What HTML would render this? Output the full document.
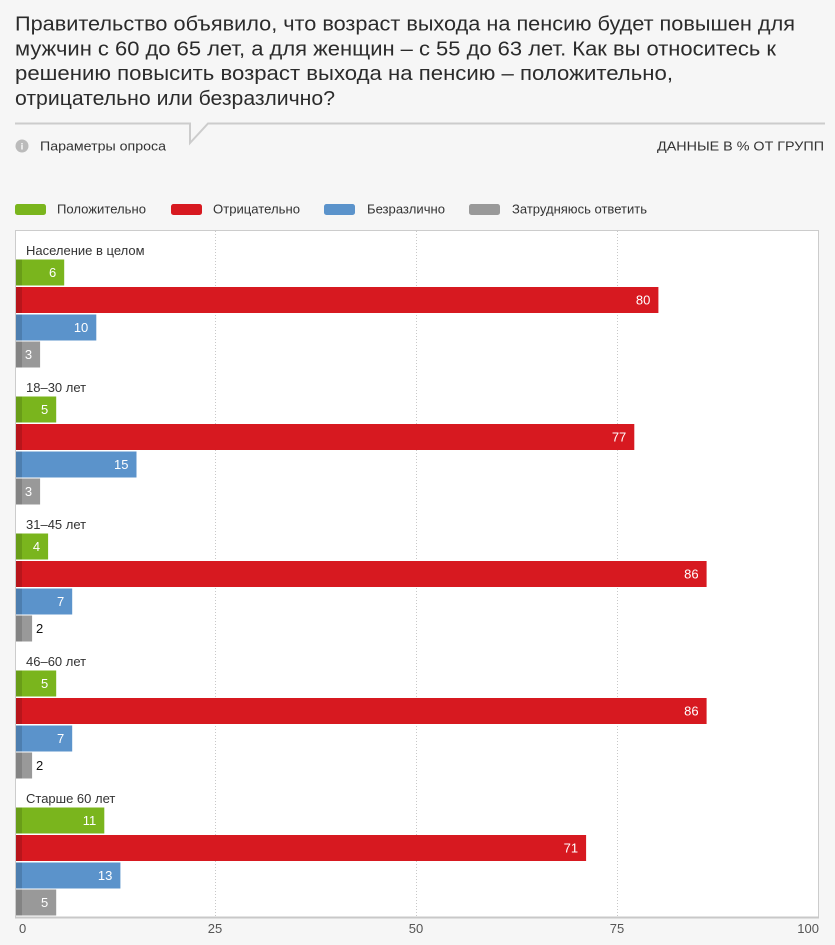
<!DOCTYPE html>
<html>
<head>
<meta charset="utf-8">
<style>
html,body{margin:0;padding:0;background:#f6f6f6;}
svg{display:block;}
text{font-family:"Liberation Sans","DejaVu Sans",sans-serif;}
</style>
</head>
<body>
<svg width="835" height="945" viewBox="0 0 835 945" xmlns="http://www.w3.org/2000/svg">
<rect x="0" y="0" width="835" height="945" fill="#f6f6f6"/>
<!-- Title -->
<g font-size="20" fill="#2b2b2b">
<text x="15" y="30.5" textLength="780" lengthAdjust="spacingAndGlyphs">Правительство объявило, что возраст выхода на пенсию будет повышен для</text>
<text x="15" y="55.3" textLength="761" lengthAdjust="spacingAndGlyphs">мужчин с 60 до 65 лет, а для женщин – с 55 до 63 лет. Как вы относитесь к</text>
<text x="15" y="80" textLength="658" lengthAdjust="spacingAndGlyphs">решению повысить возраст выхода на пенсию – положительно,</text>
<text x="15" y="105" textLength="320" lengthAdjust="spacingAndGlyphs">отрицательно или безразлично?</text>
</g>
<!-- separator with notch -->
<polyline points="15,123.5 190,123.5 190,143 208,123.5 825,123.5" fill="none" stroke="#cccccc" stroke-width="2"/>
<!-- params row -->
<circle cx="22" cy="146" r="6.5" fill="#bbbbbb"/>
<text x="22" y="149.5" font-size="9" font-weight="bold" fill="#ffffff" text-anchor="middle">i</text>
<text x="40" y="150.5" font-size="13" fill="#333" textLength="126" lengthAdjust="spacingAndGlyphs">Параметры опроса</text>
<text x="824" y="150.5" font-size="13" fill="#333" text-anchor="end" textLength="167" lengthAdjust="spacingAndGlyphs">ДАННЫЕ В % ОТ ГРУПП</text>
<!-- legend -->
<g font-size="13" fill="#333">
<rect x="15" y="204" width="31" height="11" rx="2.5" fill="#7ab51d"/>
<text x="57" y="213.5" textLength="89" lengthAdjust="spacingAndGlyphs">Положительно</text>
<rect x="171" y="204" width="31" height="11" rx="2.5" fill="#d71920"/>
<text x="213" y="213.5" textLength="87" lengthAdjust="spacingAndGlyphs">Отрицательно</text>
<rect x="324" y="204" width="31" height="11" rx="2.5" fill="#5b93cb"/>
<text x="367" y="213.5" textLength="78" lengthAdjust="spacingAndGlyphs">Безразлично</text>
<rect x="469" y="204" width="31" height="11" rx="2.5" fill="#999999"/>
<text x="512" y="213.5" textLength="135" lengthAdjust="spacingAndGlyphs">Затрудняюсь ответить</text>
</g>
<!-- plot area -->
<rect x="15.5" y="230.5" width="803" height="687" fill="#ffffff" stroke="#cccccc" stroke-width="1"/>
<g stroke="#c8c8c8" stroke-width="1" stroke-dasharray="1,2">
<line x1="215.5" y1="231" x2="215.5" y2="917"/>
<line x1="416.5" y1="231" x2="416.5" y2="917"/>
<line x1="617.5" y1="231" x2="617.5" y2="917"/>
</g>
<line x1="15" y1="917.5" x2="819" y2="917.5" stroke="#c8c8c8" stroke-width="2"/>
<!-- axis labels -->
<g font-size="13" fill="#555">
<text x="19" y="933">0</text>
<text x="215" y="933" text-anchor="middle">25</text>
<text x="416" y="933" text-anchor="middle">50</text>
<text x="617" y="933" text-anchor="middle">75</text>
<text x="819" y="933" text-anchor="end">100</text>
</g>
<!-- group labels -->
<g font-size="13" fill="#333">
<text x="26" y="255">Население в целом</text>
<text x="26" y="392">18–30 лет</text>
<text x="26" y="529">31–45 лет</text>
<text x="26" y="666">46–60 лет</text>
<text x="26" y="803">Старше 60 лет</text>
</g>
<!-- Bars -->
<g font-size="13">
<!-- Group 1 y0=259.5 -->
<rect x="16" y="259.5" width="48.2" height="26" fill="#7ab51d"/><rect x="16" y="259.5" width="6" height="26" fill="#699d18"/>
<text x="56.2" y="277" fill="#fff" text-anchor="end">6</text>
<rect x="16" y="287" width="642.4" height="26" fill="#d71920"/><rect x="16" y="287" width="6" height="26" fill="#b8151b"/>
<text x="650.4" y="304.5" fill="#fff" text-anchor="end">80</text>
<rect x="16" y="314.5" width="80.3" height="26" fill="#5b93cb"/><rect x="16" y="314.5" width="6" height="26" fill="#4d7eaf"/>
<text x="88.3" y="332" fill="#fff" text-anchor="end">10</text>
<rect x="16" y="341.5" width="24.1" height="26" fill="#999999"/><rect x="16" y="341.5" width="6" height="26" fill="#838383"/>
<text x="32.1" y="359" fill="#fff" text-anchor="end">3</text>

<!-- Group 2 y0=396.5 -->
<rect x="16" y="396.5" width="40.2" height="26" fill="#7ab51d"/><rect x="16" y="396.5" width="6" height="26" fill="#699d18"/>
<text x="48.2" y="414" fill="#fff" text-anchor="end">5</text>
<rect x="16" y="424" width="618.3" height="26" fill="#d71920"/><rect x="16" y="424" width="6" height="26" fill="#b8151b"/>
<text x="626.3" y="441.5" fill="#fff" text-anchor="end">77</text>
<rect x="16" y="451.5" width="120.5" height="26" fill="#5b93cb"/><rect x="16" y="451.5" width="6" height="26" fill="#4d7eaf"/>
<text x="128.5" y="469" fill="#fff" text-anchor="end">15</text>
<rect x="16" y="478.5" width="24.1" height="26" fill="#999999"/><rect x="16" y="478.5" width="6" height="26" fill="#838383"/>
<text x="32.1" y="496" fill="#fff" text-anchor="end">3</text>

<!-- Group 3 y0=533.5 -->
<rect x="16" y="533.5" width="32.1" height="26" fill="#7ab51d"/><rect x="16" y="533.5" width="6" height="26" fill="#699d18"/>
<text x="40.1" y="551" fill="#fff" text-anchor="end">4</text>
<rect x="16" y="561" width="690.6" height="26" fill="#d71920"/><rect x="16" y="561" width="6" height="26" fill="#b8151b"/>
<text x="698.6" y="578.5" fill="#fff" text-anchor="end">86</text>
<rect x="16" y="588.5" width="56.2" height="26" fill="#5b93cb"/><rect x="16" y="588.5" width="6" height="26" fill="#4d7eaf"/>
<text x="64.2" y="606" fill="#fff" text-anchor="end">7</text>
<rect x="16" y="615.5" width="16.1" height="26" fill="#999999"/><rect x="16" y="615.5" width="6" height="26" fill="#838383"/>
<text x="36" y="633" fill="#111">2</text>

<!-- Group 4 y0=670.5 -->
<rect x="16" y="670.5" width="40.2" height="26" fill="#7ab51d"/><rect x="16" y="670.5" width="6" height="26" fill="#699d18"/>
<text x="48.2" y="688" fill="#fff" text-anchor="end">5</text>
<rect x="16" y="698" width="690.6" height="26" fill="#d71920"/><rect x="16" y="698" width="6" height="26" fill="#b8151b"/>
<text x="698.6" y="715.5" fill="#fff" text-anchor="end">86</text>
<rect x="16" y="725.5" width="56.2" height="26" fill="#5b93cb"/><rect x="16" y="725.5" width="6" height="26" fill="#4d7eaf"/>
<text x="64.2" y="743" fill="#fff" text-anchor="end">7</text>
<rect x="16" y="752.5" width="16.1" height="26" fill="#999999"/><rect x="16" y="752.5" width="6" height="26" fill="#838383"/>
<text x="36" y="770" fill="#111">2</text>

<!-- Group 5 y0=807.5 -->
<rect x="16" y="807.5" width="88.3" height="26" fill="#7ab51d"/><rect x="16" y="807.5" width="6" height="26" fill="#699d18"/>
<text x="96.3" y="825" fill="#fff" text-anchor="end">11</text>
<rect x="16" y="835" width="570.1" height="26" fill="#d71920"/><rect x="16" y="835" width="6" height="26" fill="#b8151b"/>
<text x="578.1" y="852.5" fill="#fff" text-anchor="end">71</text>
<rect x="16" y="862.5" width="104.4" height="26" fill="#5b93cb"/><rect x="16" y="862.5" width="6" height="26" fill="#4d7eaf"/>
<text x="112.4" y="880" fill="#fff" text-anchor="end">13</text>
<rect x="16" y="889.5" width="40.2" height="26" fill="#999999"/><rect x="16" y="889.5" width="6" height="26" fill="#838383"/>
<text x="48.2" y="907" fill="#fff" text-anchor="end">5</text>
</g>
</svg>
</body>
</html>
